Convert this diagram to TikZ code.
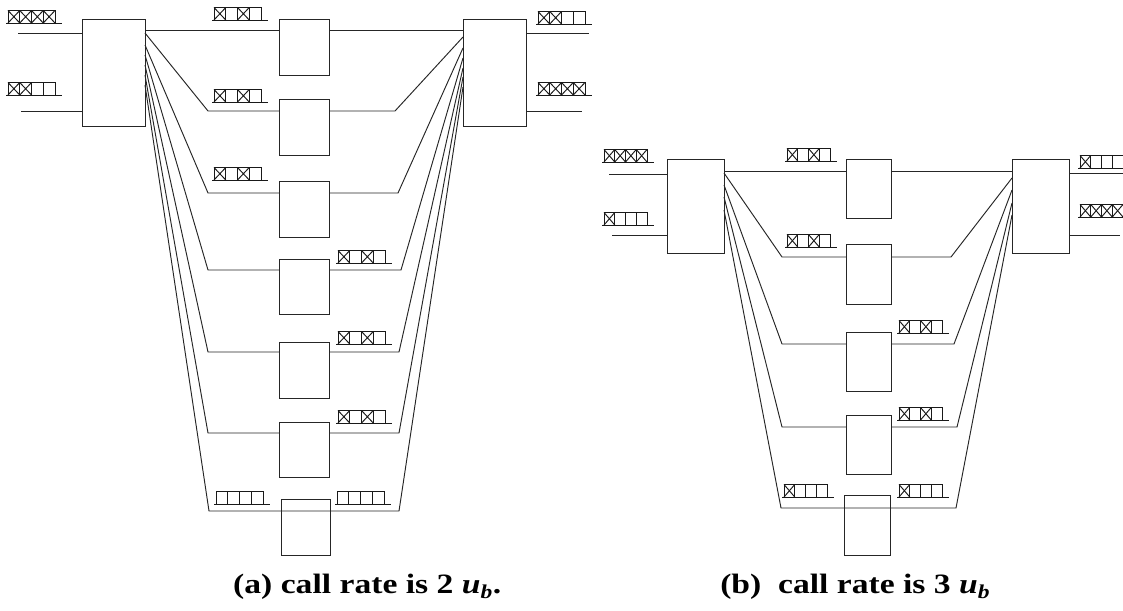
\documentclass[tikz,border=0pt]{standalone}
\usepackage{fontspec}
\setmainfont{Liberation Serif}
\tikzset{
  ln/.style={line width=0.95pt, black!85},
  box/.style={draw, line width=0.95pt, black!85, inner sep=0pt, outer sep=0pt},
  ql/.style={line width=0.95pt, black!90},
  captext/.style={anchor=base west, inner sep=0pt, xscale=1.2, font=\fontsize{28}{33}\selectfont\bfseries}
}
\newcommand\bx[5]{%
  \pgfmathsetmacro\bw{#4-#2}\pgfmathsetmacro\bh{#5-#3}%
  \node[box, minimum width=\bw pt, minimum height=\bh pt, anchor=north west] (#1) at (#2,#3) {};}
% queue: #1 x of first cell, #2 y of underline, #3 cell width, #4 list of 0/1
\newcommand\queue[4]{%
  \draw[ql] (#1-2,#2) -- (#1+4*#3+7,#2);
  \foreach \c [count=\i from 0] in {#4}{
    \draw[ql] (#1+\i*#3,#2) rectangle ++(#3,-12.5);
    \ifnum\c=1
      \draw[ql] (#1+\i*#3,#2) -- ++(#3,-12.5) (#1+\i*#3,#2-12.5) -- ++(#3,12.5);
    \fi
  }}
\begin{document}
\begin{tikzpicture}[x=1pt,y=-1pt]
\useasboundingbox (0,0) rectangle (1123,610);

% ---------------- part (a) ----------------
\bx{LA}{82}{19}{145}{126}
\bx{RA}{463}{19}{526}{126}
\bx{A1}{279}{19}{329}{75}
\bx{A2}{279}{99}{329}{155}
\bx{A3}{279}{181}{329}{237}
\bx{A4}{279}{259}{329}{314}
\bx{A5}{279}{342}{329}{398}
\bx{A6}{279}{422}{329}{477}
\bx{A7}{281}{499}{330}{555}

\coordinate (ina1) at (18,33);
\coordinate (ina2) at (21,111);
\coordinate (outa1) at (589,33);
\coordinate (outa2) at (582,111);
\draw[ln] (ina1) -- (LA.west |- ina1);
\draw[ln] (ina2) -- (LA.west |- ina2);
\draw[ln] (RA.east |- outa1) -- (outa1);
\draw[ln] (RA.east |- outa2) -- (outa2);

\draw[ln] (LA.east |- 0,30) -- (A1.west |- 0,30);
\draw[ln] (A1.east |- 0,30) -- (RA.west |- 0,30);
\foreach \n/\ly/\ls/\re/\bxr in {2/111/33/37/395, 3/193/45/48/398, 4/270/55/58/401, 5/352/65/68/399, 6/433/75/77/399}{
  \draw[ln] (LA.east |- 0,\ls) -- (208,\ly) -- (A\n.west |- 0,\ly);
  \draw[ln] (A\n.east |- 0,\ly) -- (\bxr,\ly) -- (RA.west |- 0,\re);
}
\draw[ln] (LA.east |- 0,85) -- (209,511) -- (399,511) -- (RA.west |- 0,87);

\queue{8}{23}{11.75}{1,1,1,1}
\queue{8}{95}{11.75}{1,1,0,0}
\queue{538}{24}{11.75}{1,1,0,0}
\queue{538}{95}{11.75}{1,1,1,1}
\queue{214}{20}{11.75}{1,0,1,0}
\queue{214}{102}{11.75}{1,0,1,0}
\queue{214}{180}{11.75}{1,0,1,0}
\queue{338}{263}{11.75}{1,0,1,0}
\queue{338}{344}{11.75}{1,0,1,0}
\queue{338}{423}{11.75}{1,0,1,0}
\queue{216}{504}{11.75}{0,0,0,0}
\queue{337}{504}{11.75}{0,0,0,0}

\node[captext] (capa) at (233,593) {(a) call rate is 2 \textit{u}\textsubscript{\textit{b}}.};

% ---------------- part (b) ----------------
\bx{LB}{667}{159}{724}{253}
\bx{RB}{1012}{159}{1069}{253}
\bx{B1}{846}{159}{891}{218}
\bx{B2}{846}{244}{891}{304}
\bx{B3}{846}{332}{891}{391}
\bx{B4}{846}{415}{891}{474}
\bx{B5}{844}{495}{890}{555}

\coordinate (inb1) at (609,174);
\coordinate (inb2) at (612,235);
\coordinate (outb1) at (1123,173);
\coordinate (outb2) at (1120,235);
\draw[ln] (inb1) -- (LB.west |- inb1);
\draw[ln] (inb2) -- (LB.west |- inb2);
\draw[ln] (RB.east |- outb1) -- (outb1);
\draw[ln] (RB.east |- outb2) -- (outb2);

\draw[ln] (LB.east |- 0,171) -- (B1.west |- 0,171);
\draw[ln] (B1.east |- 0,171) -- (RB.west |- 0,171);
\foreach \n/\ly/\ls/\re/\bxr in {2/257/173/178/951, 3/344/185/190/954, 4/427/197/203/957}{
  \draw[ln] (LB.east |- 0,\ls) -- (782,\ly) -- (B\n.west |- 0,\ly);
  \draw[ln] (B\n.east |- 0,\ly) -- (\bxr,\ly) -- (RB.west |- 0,\re);
}
\draw[ln] (LB.east |- 0,210) -- (781,508) -- (956,508) -- (RB.west |- 0,215);

\queue{604}{162}{10.75}{1,1,1,1}
\queue{604}{225}{10.75}{1,0,0,0}
\queue{1080}{168}{10.75}{1,0,0,0}
\queue{1080}{217}{10.75}{1,1,1,1}
\queue{787}{161}{10.75}{1,0,1,0}
\queue{787}{247}{10.75}{1,0,1,0}
\queue{899}{333}{10.75}{1,0,1,0}
\queue{899}{420}{10.75}{1,0,1,0}
\queue{784}{497}{10.75}{1,0,0,0}
\queue{899}{497}{10.75}{1,0,0,0}

\node[captext] (capb) at (720,593) {(b)\ \ call rate is 3 \textit{u}\textsubscript{\textit{b}}};
\end{tikzpicture}
\end{document}
